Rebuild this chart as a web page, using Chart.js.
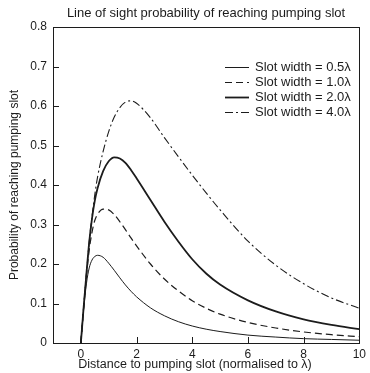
<!DOCTYPE html>
<html>
<head>
<meta charset="utf-8">
<script src="https://cdn.jsdelivr.net/npm/chart.js@4.4.1/dist/chart.umd.min.js"></script>
<style>
  html, body { margin: 0; padding: 0; background: #ffffff; }
  #chart { display: block; }
</style>
</head>
<body>
<canvas id="chart" width="370" height="373"></canvas>
<script>
// Distance to the pumping slot, in units of the wavelength λ
const distance = [0, 0.1, 0.2, 0.3, 0.4, 0.5, 0.6, 0.8, 1.0, 1.2, 1.4, 1.6, 1.8, 2.0, 2.5, 3.0, 3.5, 4.0, 4.5, 5.0, 6.0, 7.0, 8.0, 9.0, 10.0];

// Line-of-sight probability for each slot width
const slot05 = [0, 0.085, 0.15, 0.19, 0.21, 0.219, 0.222, 0.217, 0.202, 0.184, 0.165, 0.147, 0.131, 0.117, 0.089, 0.069, 0.054, 0.043, 0.035, 0.029, 0.02, 0.015, 0.011, 0.009, 0.007];
const slot10 = [0, 0.09, 0.17, 0.235, 0.28, 0.31, 0.326, 0.339, 0.337, 0.325, 0.307, 0.287, 0.266, 0.246, 0.2, 0.162, 0.132, 0.107, 0.088, 0.073, 0.052, 0.038, 0.028, 0.021, 0.016];
const slot20 = [0, 0.09, 0.175, 0.255, 0.315, 0.36, 0.392, 0.435, 0.46, 0.47, 0.467, 0.456, 0.438, 0.417, 0.362, 0.307, 0.257, 0.212, 0.176, 0.148, 0.108, 0.08, 0.06, 0.046, 0.035];
const slot40 = [0, 0.09, 0.175, 0.255, 0.32, 0.375, 0.42, 0.485, 0.535, 0.572, 0.596, 0.61, 0.613, 0.607, 0.57, 0.52, 0.472, 0.425, 0.38, 0.337, 0.258, 0.197, 0.15, 0.114, 0.088];

const seriesLabels = ['Slot width = 0.5λ', 'Slot width = 1.0λ', 'Slot width = 2.0λ', 'Slot width = 4.0λ'];

const xTickValues = [0, 2, 4, 6, 8, 10];
const xTickLabels = ['0', '2', '4', '6', '8', '10'];
const yTickValues = [0, 0.1, 0.2, 0.3, 0.4, 0.5, 0.6, 0.7, 0.8];
const yTickLabels = ['0', '0.1', '0.2', '0.3', '0.4', '0.5', '0.6', '0.7', '0.8'];

const FONT = "'Liberation Sans', Arial, Helvetica, sans-serif";
const INK = '#1c1c1c';

function toPoints(ys) {
  return distance.map((d, i) => ({ x: d, y: ys[i] }));
}

const lineStyles = [
  { borderWidth: 1, borderDash: [] },
  { borderWidth: 1.2, borderDash: [7, 4] },
  { borderWidth: 1.8, borderDash: [] },
  { borderWidth: 1.1, borderDash: [8, 3, 2, 3] }
];

const datasets = [slot05, slot10, slot20, slot40].map((ys, i) => ({
  label: seriesLabels[i],
  data: toPoints(ys),
  borderColor: INK,
  borderWidth: lineStyles[i].borderWidth,
  borderDash: lineStyles[i].borderDash,
  pointRadius: 0,
  fill: false,
  cubicInterpolationMode: 'monotone'
}));

// Frame, inward tick marks, titles and the in-plot legend
const decorations = {
  id: 'decorations',
  afterDatasetsDraw(chart) {
    const { ctx, chartArea: a, scales } = chart;
    ctx.save();
    ctx.strokeStyle = INK;
    ctx.lineWidth = 1;
    ctx.setLineDash([]);
    ctx.strokeRect(Math.round(a.left) + 0.5, Math.round(a.top) + 0.5,
                   Math.round(a.right - a.left), Math.round(a.bottom - a.top));

    ctx.beginPath();
    yTickValues.forEach(v => {
      const y = Math.round(scales.y.getPixelForValue(v)) + 0.5;
      ctx.moveTo(a.left, y);
      ctx.lineTo(a.left + 6, y);
    });
    xTickValues.forEach(v => {
      const x = Math.round(scales.x.getPixelForValue(v)) + 0.5;
      ctx.moveTo(x, a.bottom);
      ctx.lineTo(x, a.bottom - 6);
    });
    ctx.stroke();

    ctx.fillStyle = INK;
    ctx.textAlign = 'center';
    ctx.textBaseline = 'middle';
    ctx.font = '13px ' + FONT;
    ctx.fillText('Line of sight probability of reaching pumping slot', 206, 13);
    ctx.font = '12.5px ' + FONT;
    ctx.fillText('Distance to pumping slot (normalised to λ)', 195, 365);

    // legend
    ctx.font = '13px ' + FONT;
    ctx.textAlign = 'left';
    chart.data.datasets.forEach((ds, i) => {
      const y = 67 + i * 15;
      ctx.beginPath();
      ctx.lineWidth = ds.borderWidth;
      ctx.setLineDash(ds.borderDash);
      ctx.moveTo(225, y + 0.5);
      ctx.lineTo(249, y + 0.5);
      ctx.stroke();
      ctx.setLineDash([]);
      ctx.fillText(ds.label, 255, y);
    });
    ctx.restore();
  }
};

new Chart(document.getElementById('chart'), {
  type: 'line',
  data: { datasets },
  plugins: [decorations],
  options: {
    responsive: false,
    animation: false,
    devicePixelRatio: 1,
    layout: { padding: { left: 0, right: 9, top: 27, bottom: 0 } },
    plugins: {
      legend: { display: false },
      tooltip: { enabled: false },
      title: { display: false }
    },
    scales: {
      x: {
        type: 'linear',
        min: -1,
        max: 10,
        afterBuildTicks: s => { s.ticks = xTickValues.map(v => ({ value: v })); },
        afterFit: s => { s.height = 30; },
        grid: { display: false, drawTicks: false },
        border: { display: false },
        ticks: {
          padding: 4,
          color: INK,
          maxRotation: 0,
          font: { family: FONT, size: 12 },
          callback: (v, i) => xTickLabels[i]
        },
        title: { display: false }
      },
      y: {
        type: 'linear',
        min: 0,
        max: 0.8,
        afterBuildTicks: s => { s.ticks = yTickValues.map(v => ({ value: v })); },
        afterFit: s => { s.width = 53; },
        grid: { display: false, drawTicks: false },
        border: { display: false },
        ticks: {
          padding: 6,
          color: INK,
          font: { family: FONT, size: 12 },
          callback: (v, i) => yTickLabels[i]
        },
        title: {
          display: true,
          text: 'Probability of reaching pumping slot',
          color: INK,
          font: { family: FONT, size: 12 },
          padding: { top: 7, bottom: 0 }
        }
      }
    }
  }
});
</script>
</body>
</html>
